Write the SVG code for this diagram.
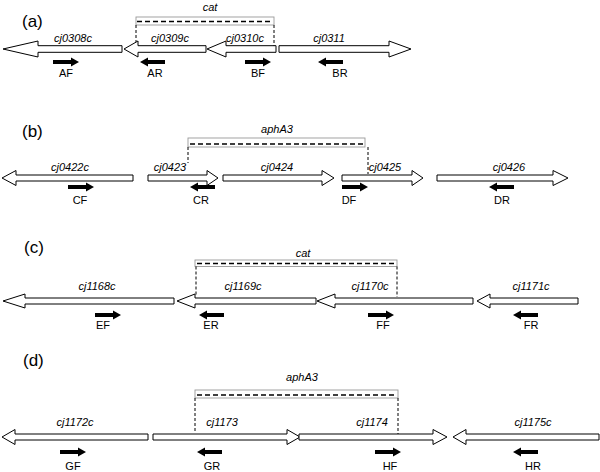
<svg xmlns="http://www.w3.org/2000/svg" width="600" height="472" viewBox="0 0 600 472">
<defs>
<style>
.gene{fill:#fff;stroke:#000;stroke-width:1}
.box{fill:none;stroke:#999;stroke-width:0.9}
.dash{fill:none;stroke:#000;stroke-width:1.6;stroke-dasharray:5,3}
.vdash{fill:none;stroke:#000;stroke-width:1;stroke-dasharray:3,2}
.glab{font-family:"Liberation Sans",Arial,sans-serif;font-style:italic;font-size:11px;text-anchor:middle;fill:#000}
.plab{font-family:"Liberation Sans",Arial,sans-serif;font-size:11px;text-anchor:middle;fill:#000}
.panel{font-family:"Liberation Sans",Arial,sans-serif;font-size:17px;fill:#000}
.primer{fill:#000}
</style>
<polygon id="pr" points="0,-2 18,-2 18,-4.5 26,0 18,4.5 18,2 0,2"/>
<polygon id="pl" points="0,0 8,-4.5 8,-2 25,-2 25,2 8,2 8,4.5"/>
</defs>

<text class="panel" x="22" y="27">(a)</text>
<text class="panel" x="22" y="137">(b)</text>
<text class="panel" x="24" y="253">(c)</text>
<text class="panel" x="23" y="366">(d)</text>

<g id="connectors">
<rect class="box" x="136" y="17" width="138" height="8"/>
<line class="dash" x1="137" y1="21.5" x2="273" y2="21.5"/>
<line class="vdash" x1="136" y1="25" x2="136" y2="46"/>
<line class="vdash" x1="274" y1="25" x2="274" y2="52"/>

<rect class="box" x="188" y="138" width="177" height="9"/>
<line class="dash" x1="190" y1="144" x2="363" y2="144"/>
<line class="vdash" x1="188" y1="147" x2="188" y2="163"/>
<line class="vdash" x1="368" y1="147" x2="368" y2="174"/>

<rect class="box" x="195" y="260" width="202" height="6.5"/>
<line class="dash" x1="197" y1="263.5" x2="395" y2="263.5"/>
<line class="vdash" x1="196" y1="266.5" x2="196" y2="295"/>
<line class="vdash" x1="397" y1="266.5" x2="397" y2="297"/>

<rect class="box" x="195" y="390" width="203" height="8"/>
<line class="dash" x1="197" y1="395" x2="396" y2="395"/>
<line class="vdash" x1="195" y1="398" x2="195" y2="433"/>
<line class="vdash" x1="398" y1="398" x2="398" y2="440"/>
</g>

<text class="glab" x="210" y="11">cat</text>
<text class="glab" x="277" y="133">aphA3</text>
<text class="glab" x="303" y="257">cat</text>
<text class="glab" x="302" y="381">aphA3</text>

<!-- panel a -->
<g id="cj0308c"><polygon class="gene" points="3,49 38,41 38,45.7 122,45.7 122,52.3 38,52.3 38,57"/><text class="glab" x="73" y="42">cj0308c</text></g>
<g id="cj0309c"><polygon class="gene" points="124,49 138,41 138,45.7 206,45.7 206,52.3 138,52.3 138,57"/><text class="glab" x="170" y="42">cj0309c</text></g>
<g id="cj0310c"><polygon class="gene" points="207,49 226,41 226,45.7 276,45.7 276,52.3 226,52.3 226,57"/><text class="glab" x="245" y="42">cj0310c</text></g>
<g id="cj0311"><polygon class="gene" points="279,45.7 389,45.7 389,41 411,49 389,57 389,52.3 279,52.3"/><text class="glab" x="329" y="42">cj0311</text></g>
<g id="AF"><use href="#pr" class="primer" x="53" y="62"/><text class="plab" x="66" y="77">AF</text></g>
<g id="AR"><use href="#pl" class="primer" x="140" y="62"/><text class="plab" x="155" y="77">AR</text></g>
<g id="BF"><use href="#pr" class="primer" x="245" y="62"/><text class="plab" x="258" y="77">BF</text></g>
<g id="BR"><use href="#pl" class="primer" x="318" y="62"/><text class="plab" x="340" y="77">BR</text></g>

<!-- panel b -->
<g id="cj0422c"><polygon class="gene" points="2,178 16,170.5 16,175 133,175 133,181 16,181 16,185.5"/><text class="glab" x="70" y="171">cj0422c</text></g>
<g id="cj0423"><polygon class="gene" points="148,175 207,175 207,170.5 218,178 207,185.5 207,181 148,181"/><text class="glab" x="170" y="171">cj0423</text></g>
<g id="cj0424"><polygon class="gene" points="223,175 322,175 322,170.5 334,178 322,185.5 322,181 223,181"/><text class="glab" x="277" y="171">cj0424</text></g>
<g id="cj0425"><polygon class="gene" points="342,175 412,175 412,170.5 423,178 412,185.5 412,181 342,181"/><text class="glab" x="385" y="171">cj0425</text></g>
<g id="cj0426"><polygon class="gene" points="437,175 553,175 553,170.5 568,178 553,185.5 553,181 437,181"/><text class="glab" x="509" y="171">cj0426</text></g>
<g id="CF"><use href="#pr" class="primer" x="68" y="187"/><text class="plab" x="80" y="204">CF</text></g>
<g id="CR"><use href="#pl" class="primer" x="190" y="187"/><text class="plab" x="201" y="204">CR</text></g>
<g id="DF"><use href="#pr" class="primer" x="342" y="187"/><text class="plab" x="349" y="204">DF</text></g>
<g id="DR"><use href="#pl" class="primer" x="489" y="187"/><text class="plab" x="502" y="204">DR</text></g>

<!-- panel c -->
<g id="cj1168c"><polygon class="gene" points="3,301 25,294 25,298 174,298 174,304 25,304 25,308"/><text class="glab" x="97" y="290">cj1168c</text></g>
<g id="cj1169c"><polygon class="gene" points="177,301 195,294 195,298 316,298 316,304 195,304 195,308"/><text class="glab" x="243" y="290">cj1169c</text></g>
<g id="cj1170c"><polygon class="gene" points="317,301 335,294 335,298 473,298 473,304 335,304 335,308"/><text class="glab" x="370" y="290">cj1170c</text></g>
<g id="cj1171c"><polygon class="gene" points="477,301 490,294 490,298 578,298 578,304 490,304 490,308"/><text class="glab" x="531" y="290">cj1171c</text></g>
<g id="EF"><use href="#pr" class="primer" x="95" y="315"/><text class="plab" x="103" y="329">EF</text></g>
<g id="ER"><use href="#pl" class="primer" x="199" y="315"/><text class="plab" x="211" y="329">ER</text></g>
<g id="FF"><use href="#pr" class="primer" x="368" y="315"/><text class="plab" x="383" y="329">FF</text></g>
<g id="FR"><use href="#pl" class="primer" x="513" y="315"/><text class="plab" x="531" y="329">FR</text></g>

<!-- panel d -->
<g id="cj1172c"><polygon class="gene" points="2,437 15,429.5 15,434 148,434 148,440 15,440 15,444.5"/><text class="glab" x="75" y="426">cj1172c</text></g>
<g id="cj1173"><polygon class="gene" points="153,434 287,434 287,429.5 300,437 287,444.5 287,440 153,440"/><text class="glab" x="222" y="426">cj1173</text></g>
<g id="cj1174"><polygon class="gene" points="299,434 433,434 433,429.5 447,437 433,444.5 433,440 299,440"/><text class="glab" x="372" y="426">cj1174</text></g>
<g id="cj1175c"><polygon class="gene" points="453,437 466,429.5 466,434 599,434 599,440 466,440 466,444.5"/><text class="glab" x="533" y="426">cj1175c</text></g>
<g id="GF"><use href="#pr" class="primer" x="60" y="452"/><text class="plab" x="73" y="470">GF</text></g>
<g id="GR"><use href="#pl" class="primer" x="197" y="452"/><text class="plab" x="212" y="470">GR</text></g>
<g id="HF"><use href="#pr" class="primer" x="375" y="452"/><text class="plab" x="390" y="470">HF</text></g>
<g id="HR"><use href="#pl" class="primer" x="513" y="452"/><text class="plab" x="533" y="470">HR</text></g>
</svg>
